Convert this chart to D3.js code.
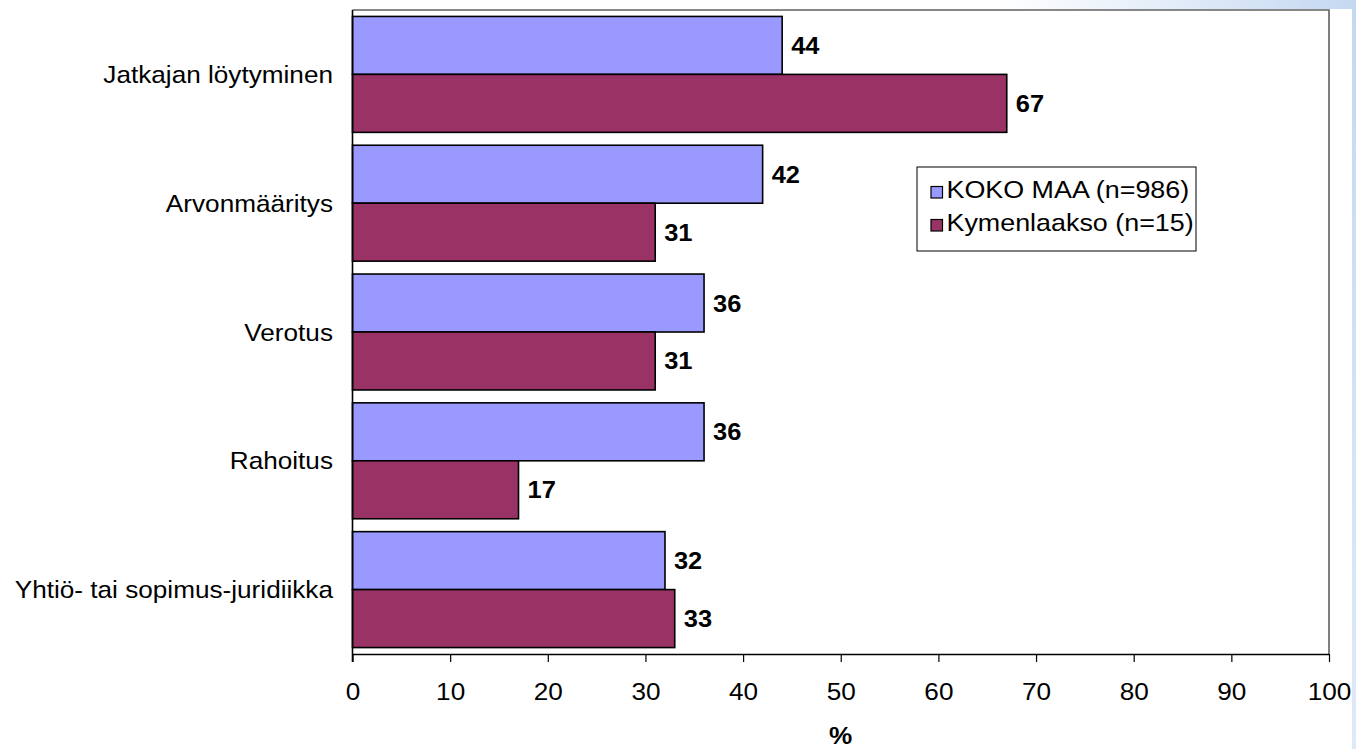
<!DOCTYPE html>
<html>
<head>
<meta charset="utf-8">
<script src="https://cdn.jsdelivr.net/npm/d3@7"></script>
<style>
html,body{margin:0;padding:0;background:#fff;}
svg{display:block;font-family:"Liberation Sans",Arial,sans-serif;}
</style>
</head>
<body>
<svg id="chart" width="1356" height="749"></svg>
<script>
const categories = ["Jatkajan löytyminen","Arvonmääritys","Verotus","Rahoitus","Yhtiö- tai sopimus-juridiikka"];
const seriesNames = ["KOKO MAA (n=986)","Kymenlaakso (n=15)"];
const kokoMaa = [44,42,36,36,32];
const kymenlaakso = [67,31,31,17,33];
const xTicks = [0,10,20,30,40,50,60,70,80,90,100];
const colors = ["#9999FF","#993366"];
const axisTitle = "%";

const svg = d3.select("#chart");
const defs = svg.append("defs");
const g1 = defs.append("linearGradient").attr("id","topg").attr("x1","0").attr("x2","1").attr("y1","0").attr("y2","0");
g1.append("stop").attr("offset","0").attr("stop-color","#ffffff");
g1.append("stop").attr("offset","1").attr("stop-color","#c4d8f1");
const g2 = defs.append("linearGradient").attr("id","rightg").attr("x1","0").attr("x2","0").attr("y1","0").attr("y2","1");
g2.append("stop").attr("offset","0").attr("stop-color","#c4d8f1");
g2.append("stop").attr("offset","1").attr("stop-color","#dfeaf8");

svg.append("rect").attr("x",1000).attr("y",0).attr("width",356).attr("height",9).attr("fill","url(#topg)");
svg.append("rect").attr("x",1352).attr("y",0).attr("width",4).attr("height",749).attr("fill","url(#rightg)");

const L = 352.5, R = 1329, T = 10, B = 654;
const x = d3.scaleLinear().domain([0,100]).range([L,R]);
const y = d3.scaleBand().domain(categories).range([T,B]).paddingInner(0.1).paddingOuter(0.05);
const ySub = d3.scaleBand().domain([0,1]).range([0,y.bandwidth()]);

const SX = 1.09;

// plot frame top/right
svg.append("path").attr("d",`M${L},${T}H${R}V${B}`).attr("fill","none").attr("stroke","#606060").attr("stroke-width",1.6);

const data = [];
categories.forEach((c,i)=>{
  data.push({cat:c,s:0,v:kokoMaa[i]});
  data.push({cat:c,s:1,v:kymenlaakso[i]});
});

svg.append("g").selectAll("rect").data(data).join("rect")
  .attr("x",x(0))
  .attr("y",d=>y(d.cat)+ySub(d.s))
  .attr("width",d=>x(d.v)-x(0))
  .attr("height",ySub.bandwidth())
  .attr("fill",d=>colors[d.s])
  .attr("stroke","#000").attr("stroke-width",1.6);

// value labels
svg.append("g").selectAll("text").data(data).join("text")
  .attr("transform",d=>`translate(${x(d.v)+9},${y(d.cat)+ySub(d.s)+ySub.bandwidth()/2+8.5}) scale(1.06,1)`)
  .attr("font-size",24).attr("font-weight","bold").attr("fill","#000")
  .text(d=>d.v);

// category labels
svg.append("g").selectAll("text").data(categories).join("text")
  .attr("transform",d=>`translate(333,${y(d)+y.bandwidth()/2+8.5}) scale(${SX},1)`)
  .attr("text-anchor","end").attr("font-size",24).attr("fill","#000")
  .text(d=>d);

// axes
const xAxis = d3.axisBottom(x).tickValues(xTicks).tickSize(8).tickFormat(d3.format("d"));
const gx = svg.append("g").attr("transform",`translate(0,${B})`).call(xAxis);
gx.select(".domain").attr("stroke","#000").attr("stroke-width",1.4).attr("d",`M${L},0.5H${R}`);
gx.selectAll(".tick line").attr("stroke","#000").attr("stroke-width",1.2);
gx.selectAll(".tick text").attr("font-size",24).attr("font-family","Liberation Sans, Arial, sans-serif")
  .attr("fill","#000").attr("y",0).attr("dy",null)
  .attr("transform",`translate(0,46) scale(${SX},1)`);

svg.append("line").attr("x1",L).attr("x2",L).attr("y1",T).attr("y2",B+8).attr("stroke","#000").attr("stroke-width",1.6);

svg.append("text").attr("transform",`translate(${x(50)},744) scale(${SX},1)`)
  .attr("text-anchor","middle").attr("font-size",24).attr("font-weight","bold").text(axisTitle);

// legend
const lg = svg.append("g");
lg.append("rect").attr("x",917).attr("y",167).attr("width",279).attr("height",84)
  .attr("fill","#fff").attr("stroke","#000").attr("stroke-width",1);
seriesNames.forEach((n,i)=>{
  const by = 198 + i*33;
  lg.append("rect").attr("x",931).attr("y",by-11.5).attr("width",11.5).attr("height",11.5)
    .attr("fill",colors[i]).attr("stroke","#000").attr("stroke-width",1.2);
  lg.append("text").attr("transform",`translate(946.5,${by}) scale(1.12,1)`).attr("font-size",24).text(n);
});
</script>
</body>
</html>
